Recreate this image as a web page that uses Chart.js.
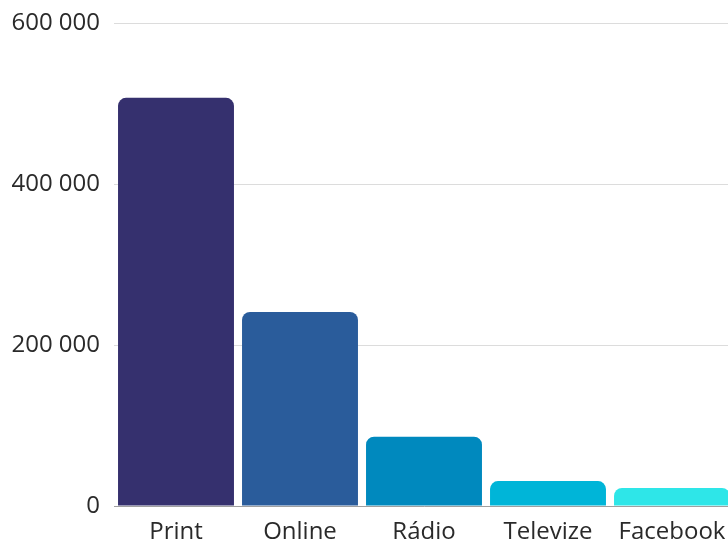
<!DOCTYPE html>
<html>
<head>
<meta charset="utf-8">
<script src="https://cdn.jsdelivr.net/npm/chart.js@4"></script>
<style>
  html, body { margin: 0; padding: 0; background: #fff; overflow: hidden; }
  #wrap { width: 728px; height: 542px; overflow: hidden; }
</style>
</head>
<body>
<div id="wrap"><canvas id="mediaChart" width="738" height="542"></canvas></div>
<script>
const categories = ['Print', 'Online', 'Rádio', 'Televize', 'Facebook'];
const reach = [507000, 241000, 86000, 31000, 22500];
const barColors = ['#35306e', '#2a5c9b', '#0089be', '#00b5d8', '#2ee6e8'];
const yTicks = [0, 200000, 400000, 600000];

const fmt = v => String(v).replace(/\B(?=(\d{3})+(?!\d))/g, ' ');

const ctx = document.getElementById('mediaChart');
new Chart(ctx, {
  type: 'bar',
  data: {
    labels: categories,
    datasets: [{
      data: reach,
      backgroundColor: barColors,
      borderRadius: { topLeft: 8, topRight: 8 },
      borderSkipped: 'bottom',
      barPercentage: 0.935,
      categoryPercentage: 1
    }]
  },
  options: {
    responsive: false,
    animation: false,
    layout: { padding: { top: 23, right: 4, left: 0, bottom: 0 } },
    plugins: { legend: { display: false }, tooltip: { enabled: false } },
    scales: {
      x: {
        grid: { display: false },
        border: { display: true, color: '#a0a0a0', width: 1 },
        ticks: { color: '#2a2a2a', font: { family: 'Open Sans', size: 24 }, padding: 4 },
        afterFit: axis => { axis.height = 36; }
      },
      y: {
        min: 0,
        max: yTicks[yTicks.length - 1],
        afterBuildTicks: axis => { axis.ticks = yTicks.map(v => ({ value: v })); },
        afterFit: axis => { axis.width = 114; axis.paddingTop = 0; },
        grid: { color: '#dcdcdc', drawTicks: false },
        border: { display: false },
        ticks: {
          color: '#2a2a2a',
          font: { family: 'Open Sans', size: 24 },
          padding: 14,
          callback: v => fmt(v)
        }
      }
    }
  }
});
</script>
</body>
</html>
